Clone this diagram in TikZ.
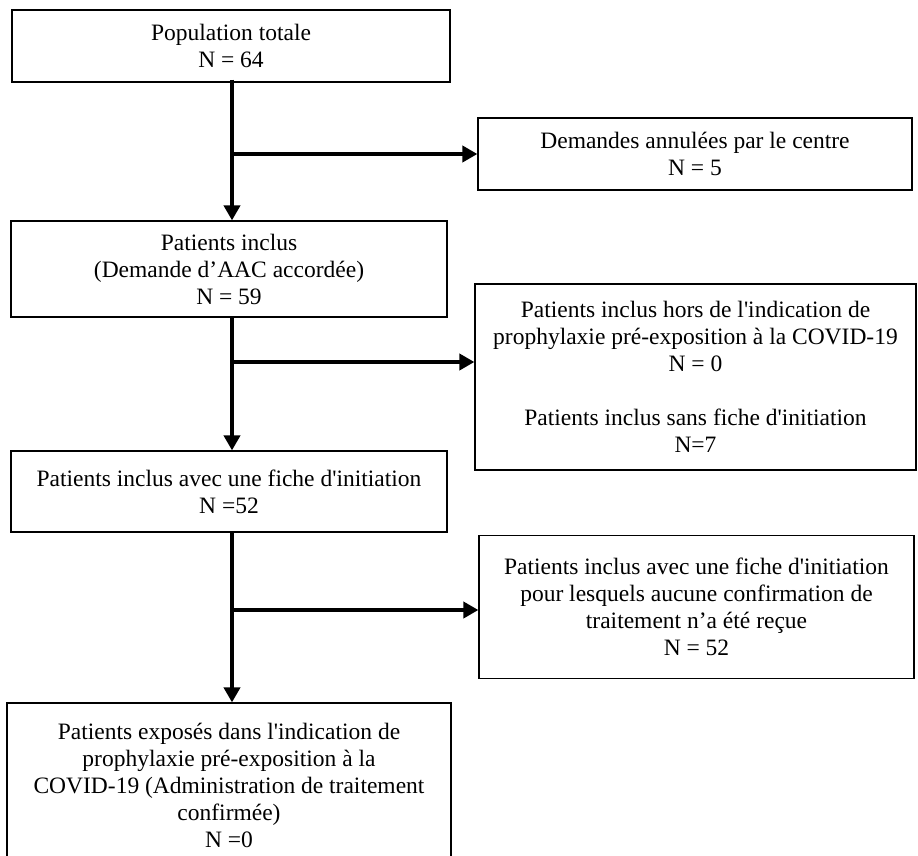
\documentclass[tikz,border=0pt]{standalone}
\usepackage{fontspec}
\setmainfont{Liberation Serif}
\usetikzlibrary{arrows.meta}
\newcommand{\sq}{\textquotesingle}
\begin{document}
\begin{tikzpicture}[x=1pt,y=-1pt,
  box/.style={draw=black, line width=1.2pt, rectangle, inner sep=0pt, align=center,
    font=\fontsize{23.5pt}{27pt}\selectfont, text=black},
  arr/.style={line width=4.5pt, -{Triangle[length=15pt,width=16pt]}},
  seg/.style={line width=4.5pt}]
\path[use as bounding box, clip] (0,0) rectangle (918,855);
\fill[white] (0,0) rectangle (918,855);
\node[box, minimum width=438pt, minimum height=72pt] (b1) at (231,46)
  {Population totale\\N = 64};
\node[box, minimum width=434pt, minimum height=72pt] (b2) at (695,154)
  {Demandes annulées par le centre\\N = 5};
\node[box, minimum width=436pt, minimum height=96pt] (b3) at (229,269)
  {Patients inclus\\(Demande d’AAC accordée)\\N = 59};
\node[box, minimum width=441pt, minimum height=186pt] (b4) at (695.5,377)
  {Patients inclus hors de l\sq indication de\\prophylaxie pré-exposition à la COVID-19\\N = 0\\[27pt]Patients inclus sans fiche d\sq initiation\\N=7};
\node[box, minimum width=436pt, minimum height=81pt] (b5) at (229,491.5)
  {Patients inclus avec une fiche d\sq initiation\\N =52};
\node[box, minimum width=435pt, minimum height=143pt] (b6) at (696.5,607)
  {Patients inclus avec une fiche d\sq initiation\\pour lesquels aucune confirmation de\\traitement n’a été reçue\\N = 52};
\node[box, minimum width=444pt, minimum height=164pt] (b7) at (229,785)
  {Patients exposés dans l\sq indication de\\prophylaxie pré-exposition à la\\COVID-19 (Administration de traitement\\confirmée)\\N =0};
\coordinate (ax) at (232,0);
\coordinate (br1) at (232,154);
\coordinate (br2) at (232,362);
\coordinate (br3) at (232,610);
% main vertical arrows
\draw[arr] ([yshift=3pt]b1.south -| ax) -- (b3.north -| ax);
\draw[arr] (b3.south -| ax) -- (b5.north -| ax);
\draw[arr] (b5.south -| ax) -- (b7.north -| ax);
% branches
\draw[arr] (br1) -- (br1 -| b2.west);
\draw[arr] (br2) -- (br2 -| b4.west);
\draw[arr] (br3) -- (br3 -| b6.west);
\end{tikzpicture}
\end{document}
